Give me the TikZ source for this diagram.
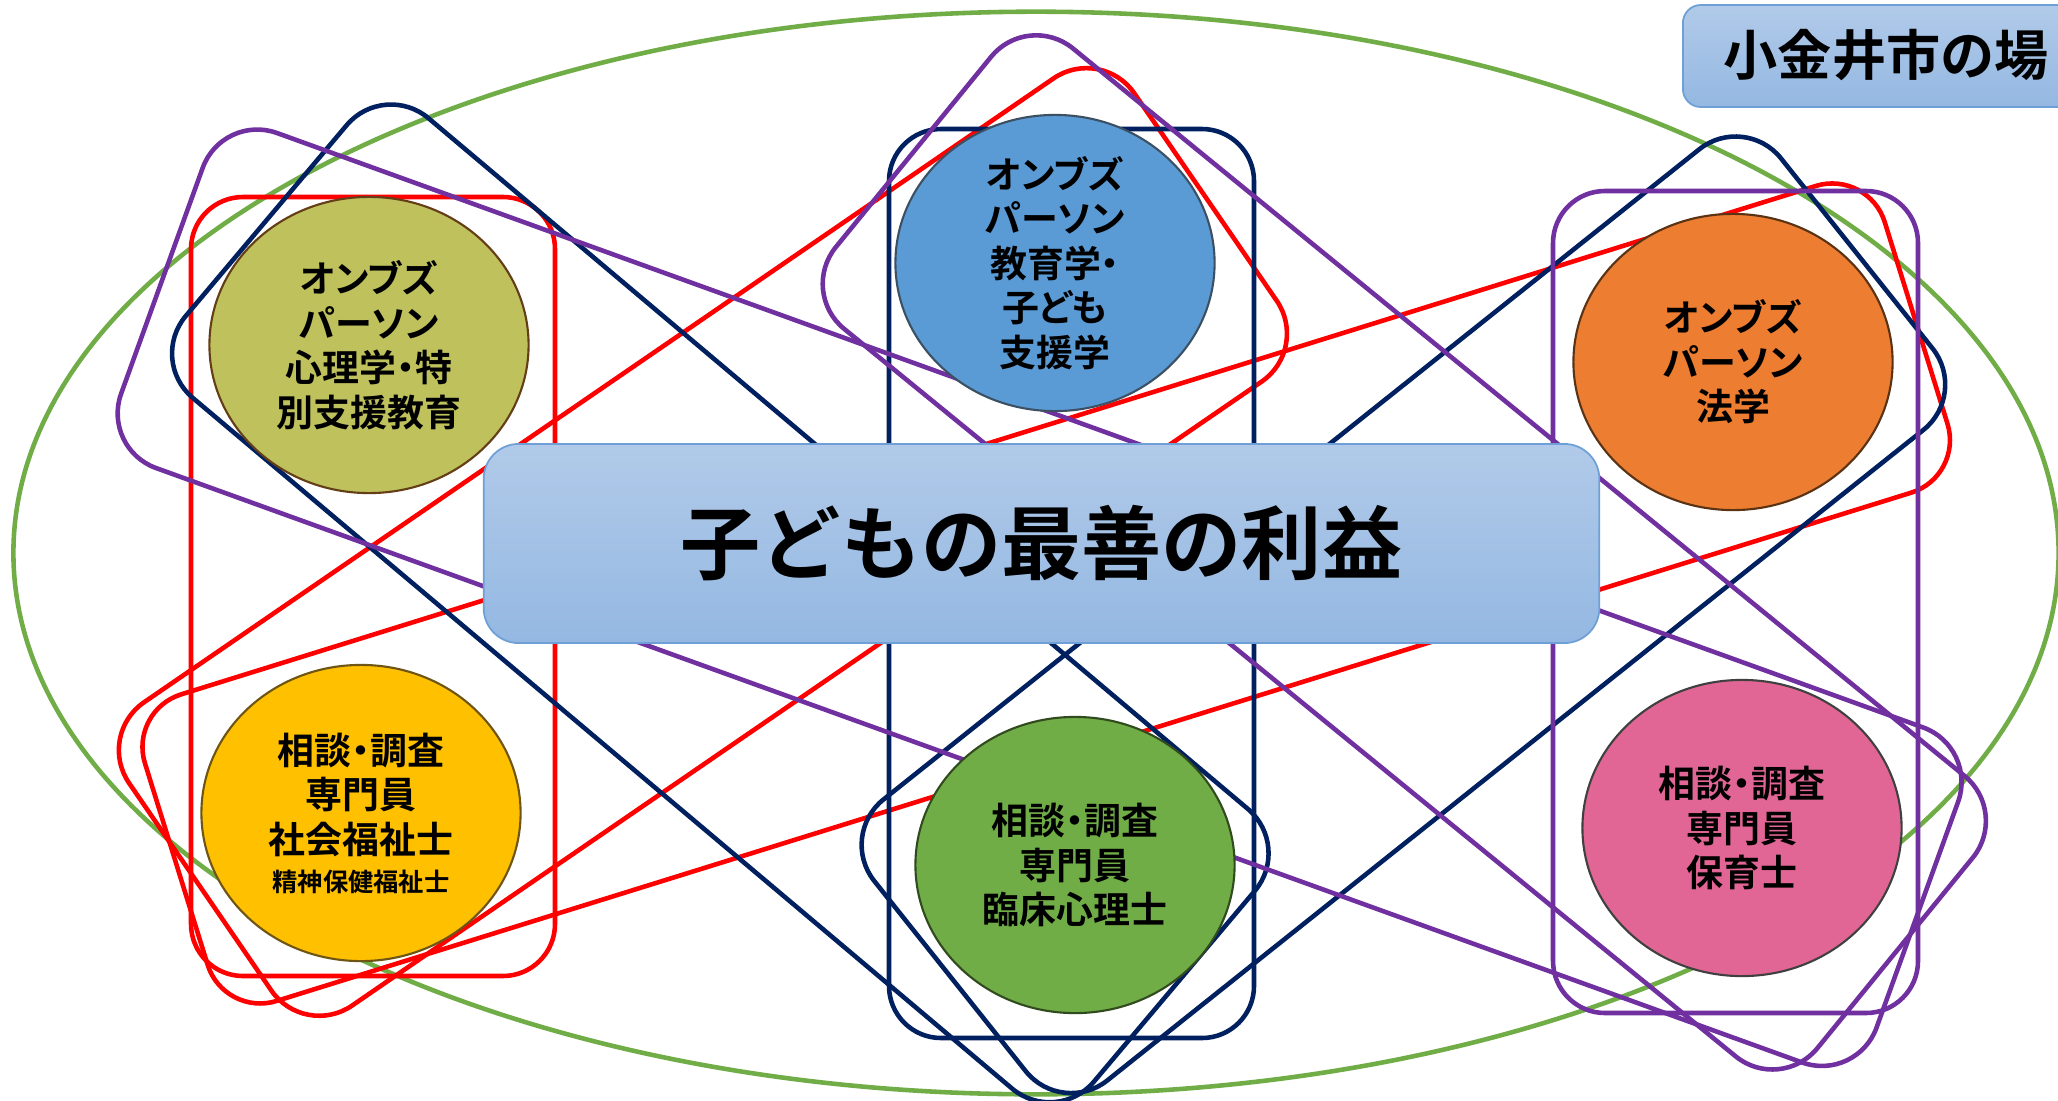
\documentclass[tikz,border=0pt]{standalone}
\usepackage{fontspec}
\newfontfamily\jp[BoldFont={Noto Sans CJK JP Bold},RawFeature={+palt}]{Noto Sans CJK JP}
\newfontfamily\jpn[BoldFont={Noto Sans CJK JP Bold}]{Noto Sans CJK JP}
\usetikzlibrary{shapes.geometric}
\definecolor{cred}{RGB}{255,0,0}
\definecolor{cnavy}{RGB}{0,32,96}
\definecolor{cpurple}{RGB}{112,48,160}
\definecolor{cgreen}{RGB}{112,173,71}
\definecolor{olivefill}{RGB}{190,193,92}
\definecolor{olivedraw}{RGB}{100,62,22}
\definecolor{bluefill}{RGB}{91,155,213}
\definecolor{bluedraw}{RGB}{60,80,100}
\definecolor{orangefill}{RGB}{237,125,49}
\definecolor{orangedraw}{RGB}{90,50,20}
\definecolor{yellowfill}{RGB}{255,192,0}
\definecolor{yellowdraw}{RGB}{110,85,20}
\definecolor{greenfill}{RGB}{112,173,71}
\definecolor{greendraw}{RGB}{50,75,30}
\definecolor{pinkfill}{RGB}{226,102,149}
\definecolor{pinkdraw}{RGB}{64,64,64}
\definecolor{boxtop}{RGB}{177,202,233}
\definecolor{boxbot}{RGB}{148,184,226}
\definecolor{boxdraw}{RGB}{110,160,215}
\begin{document}
\begin{tikzpicture}[x=0.01cm,y=-0.01cm,
  ring/.style={line width=1.3pt, rounded corners=0.58cm, line join=round},
  colbox/.style={line width=1.3pt, rounded corners=0.52cm},
  bubble/.style={ellipse, draw, line width=0.6pt, minimum width=3.19cm, minimum height=2.96cm, inner sep=0pt, outer sep=0pt},
  lbl/.style={font=\jp\bfseries\fontsize{10.5pt}{12.66pt}\selectfont, align=center, inner sep=0pt, text=black},
  mainbox/.style={rounded corners=0.35cm, draw=boxdraw, line width=0.5pt, top color=boxtop, bottom color=boxbot, inner sep=0pt},
]
\clip (0,0) rectangle (2058,1100);
\fill[white] (0,0) rectangle (2058,1100);

% big green field
\draw[cgreen, line width=1.3pt] (1036,553) ellipse [x radius=10.22cm, y radius=5.41cm];

% city label box
\node[mainbox, rounded corners=0.18cm, minimum width=4.6cm, minimum height=1.02cm, anchor=west] (citybg) at (1682,56) {};
\node[font=\jpn\bfseries\fontsize{15.4pt}{18pt}\selectfont, anchor=west, inner sep=0pt] (city) at (1723,55) {小金井市の場};

% red group (social worker)
\draw[colbox, cred] (191,197) rectangle (555,976);
\draw[ring, cred] (1101.5,45.5) -- (1309.6,348.7) -- (304.2,1038.4) -- (96.2,735.1) -- cycle;
\draw[ring, cred, rounded corners=0.55cm] (1868.4,169.6) -- (1963.8,476.3) -- (224,1017.3) -- (128.6,710.7) -- cycle;

% navy group (clinical psychologist)
\draw[colbox, cnavy] (889,129) rectangle (1254,1038);
\draw[ring, cnavy] (384.1,80.8) -- (1292.3,846.4) -- (1056.5,1126) -- (148.3,360.4) -- cycle;
\draw[ring, cnavy] (1744.8,113) -- (1968.7,393.8) -- (1061.9,1116.6) -- (838.1,835.6) -- cycle;

% purple group (nursery teacher)
\draw[colbox, cpurple] (1553,191) rectangle (1918,1013);
\draw[ring, cpurple] (222.4,113.3) -- (1977.8,747.2) -- (1856.8,1082.2) -- (101.4,448.3) -- cycle;
\draw[ring, cpurple] (1027.9,11.7) -- (2009.5,812.6) -- (1780.7,1093.1) -- (799.1,292.1) -- cycle;

% ellipses
\node[bubble, fill=olivefill, draw=olivedraw] (olive) at (369,345) {};
\node[lbl] (olivet) at (olive.center) {オンブズ\\パーソン\\心理学・特\\別支援教育};

\node[bubble, fill=bluefill, draw=bluedraw] (blue) at (1055,263) {};
\node[lbl] (bluet) at (blue.center) {オンブズ\\パーソン\\教育学・\\子ども\\支援学};

\node[bubble, fill=orangefill, draw=orangedraw] (orange) at (1733,362) {};
\node[lbl] (oranget) at (orange.center) {オンブズ\\パーソン\\法学};

\node[bubble, fill=yellowfill, draw=yellowdraw] (yellow) at (361,813) {};
\node[lbl] (yellowt) at (yellow.center) {相談・調査\\専門員\\社会福祉士\\[-0.065cm]{\fontsize{7.2pt}{9pt}\selectfont 精神保健福祉士}};

\node[bubble, fill=greenfill, draw=greendraw] (green) at (1075,865) {};
\node[lbl] (greent) at (green.center) {相談・調査\\専門員\\臨床心理士};

\node[bubble, fill=pinkfill, draw=pinkdraw] (pink) at (1742,828) {};
\node[lbl] (pinkt) at (pink.center) {相談・調査\\専門員\\保育士};

% central box
\node[mainbox, minimum width=11.15cm, minimum height=1.99cm, font=\jpn\bfseries\fontsize{22.8pt}{26pt}\selectfont] (main) at (1041.5,543.5) {子どもの最善の利益};
\end{tikzpicture}
\end{document}
